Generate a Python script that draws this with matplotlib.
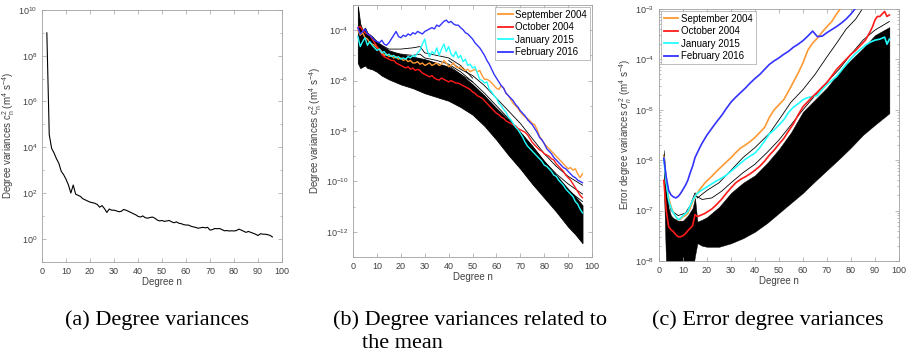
import numpy as np
import matplotlib
matplotlib.use("Agg")
import matplotlib.pyplot as plt
from matplotlib.ticker import LogLocator, FixedLocator, NullFormatter

plt.rcParams['font.family'] = ['Liberation Sans', 'DejaVu Sans']
plt.rcParams['mathtext.fontset'] = 'custom'
plt.rcParams['mathtext.rm'] = 'Liberation Sans'
plt.rcParams['mathtext.it'] = 'Liberation Sans:italic'
plt.rcParams['mathtext.bf'] = 'Liberation Sans:bold'

# ---- data (log10 of values) ----
# (a) degree variances, n = 2..96
deg_a = list(range(2, 97))
logc_a = [9.0, 4.55, 3.95, 3.75, 3.5, 3.3, 2.95, 2.8, 2.6, 2.35,
          2.0, 2.35, 1.95, 1.9, 1.85, 1.75, 1.7, 1.65, 1.6, 1.58,
          1.55, 1.5, 1.38, 1.45, 1.32, 1.15, 1.3, 1.25, 1.25, 1.22,
          1.18, 1.2, 1.28, 1.25, 1.2, 1.15, 1.1, 1.05, 0.98, 0.95,
          1.0, 0.92, 0.9, 0.93, 0.95, 0.9, 0.82, 0.78, 0.8, 0.76,
          0.78, 0.8, 0.74, 0.7, 0.74, 0.68, 0.66, 0.62, 0.6, 0.6,
          0.55, 0.52, 0.5, 0.46, 0.48, 0.5, 0.48, 0.5, 0.38, 0.4,
          0.45, 0.44, 0.45, 0.4, 0.35, 0.36, 0.34, 0.35, 0.34, 0.36,
          0.42, 0.38, 0.33, 0.28, 0.32, 0.28, 0.24, 0.2, 0.14, 0.22,
          0.2, 0.2, 0.18, 0.15, 0.08]

months = ['September 2004', 'October 2004', 'January 2015', 'February 2016']
colors = ['#ff9933', '#ff1a1a', '#22ffff', '#3333ff']

# (b) degree variances related to the mean, n = 2..96
deg_b = list(range(2, 97))
logb_sep04 = [-4.0, -4.2, -4.1, -4.3, -4.35, -4.5, -4.55, -4.6, -4.7, -4.75,
              -4.85, -5.0, -4.95, -5.05, -5.0, -5.1, -5.05, -5.15, -5.1, -5.2,
              -5.15, -5.25, -5.2, -5.3, -5.3, -5.25, -5.35, -5.3, -5.4, -5.35,
              -5.3, -5.4, -5.35, -5.3, -5.4, -5.35, -5.2, -5.3, -5.45, -5.4,
              -5.3, -5.45, -5.5, -5.45, -5.55, -5.6, -5.55, -5.65, -5.6, -5.55,
              -5.65, -5.6, -5.8, -5.95, -5.95, -6.0, -6.1, -6.2, -6.3, -6.35,
              -6.2, -6.3, -6.5, -6.6, -6.75, -6.9, -7.0, -7.1, -7.25, -7.35,
              -7.45, -7.5, -7.6, -7.7, -7.75, -7.95, -8.2, -8.35, -8.5, -8.6,
              -8.7, -8.8, -8.9, -9.0, -9.1, -9.2, -9.3, -9.4, -9.5, -9.45,
              -9.55, -9.5, -9.7, -9.85, -9.7]
logb_oct04 = [-3.9, -3.85, -4.0, -4.1, -4.15, -4.2, -4.35, -4.5, -4.65, -4.8,
              -4.95, -5.05, -5.1, -5.15, -5.2, -5.2, -5.3, -5.35, -5.4, -5.45,
              -5.5, -5.45, -5.55, -5.5, -5.6, -5.55, -5.6, -5.7, -5.75, -5.8,
              -5.85, -5.8, -5.9, -5.95, -5.98, -5.9, -5.95, -6.0, -6.05, -6.0,
              -6.05, -6.1, -6.1, -6.15, -6.2, -6.25, -6.3, -6.35, -6.45, -6.5,
              -6.6, -6.65, -6.7, -6.8, -6.9, -7.0, -7.1, -7.2, -7.3, -7.35,
              -7.45, -7.5, -7.6, -7.65, -7.7, -7.75, -7.8, -7.9, -7.95, -8.0,
              -8.05, -8.15, -8.3, -8.45, -8.55, -8.65, -8.75, -8.8, -8.9, -8.95,
              -9.0, -9.1, -9.15, -9.3, -9.4, -9.5, -9.6, -9.75, -9.85, -9.95,
              -10.1, -10.25, -10.4, -10.55, -10.65]
logb_jan15 = [-4.25, -4.65, -4.45, -4.3, -4.6, -4.45, -4.6, -4.7, -4.8, -4.75,
              -4.9, -4.85, -5.0, -4.95, -5.05, -5.0, -5.1, -5.05, -5.15, -5.1,
              -5.15, -5.05, -5.1, -5.0, -5.05, -4.9, -4.8, -4.55, -4.35, -4.8,
              -5.05, -4.85, -4.95, -4.7, -5.0, -4.75, -4.55, -4.85, -4.65, -4.95,
              -5.05, -4.85, -5.1, -5.0, -5.25, -5.15, -5.4, -5.35, -5.5, -5.45,
              -5.7, -5.95, -6.0, -6.1, -6.05, -6.35, -6.45, -6.6, -6.7, -6.9,
              -7.0, -7.15, -7.25, -7.45, -7.55, -7.7, -7.85, -7.95, -8.1, -8.25,
              -8.45, -8.6, -8.7, -8.8, -8.9, -9.0, -9.1, -9.2, -9.35, -9.4,
              -9.5, -9.6, -9.75, -9.8, -9.95, -10.05, -10.15, -10.3, -10.4, -10.5,
              -10.6, -10.8, -10.9, -11.1, -11.25]
logb_feb16 = [-3.9, -4.15, -4.05, -3.95, -4.15, -4.2, -4.3, -4.4, -4.45, -4.5,
              -4.4, -4.55, -4.6, -4.5, -4.35, -4.2, -4.05, -4.25, -4.3, -4.2,
              -4.25, -4.15, -4.2, -4.1, -4.15, -4.05, -4.1, -4.15, -4.05, -4.0,
              -3.95, -3.9, -3.95, -3.8, -3.85, -3.75, -3.65, -3.6, -3.7, -3.65,
              -3.75, -3.8, -3.8, -3.9, -3.98, -4.1, -4.15, -4.25, -4.35, -4.5,
              -4.6, -4.7, -4.85, -5.0, -5.2, -5.35, -5.55, -5.75, -5.9, -6.05,
              -6.2, -6.3, -6.5, -6.6, -6.7, -6.8, -6.95, -7.05, -7.2, -7.3,
              -7.4, -7.55, -7.65, -7.75, -7.9, -8.05, -8.25, -8.35, -8.5, -8.7,
              -8.8, -8.9, -9.05, -9.15, -9.25, -9.35, -9.45, -9.5, -9.6, -9.7,
              -9.8, -9.85, -9.95, -10.0, -10.05]

# (b) envelope of the bulk of the monthly (black) curves
band_b_deg = [2, 3, 4, 5, 6, 8, 10, 12, 15, 20, 25, 30, 35, 40, 45, 50, 55,
              60, 65, 70, 75, 80, 85, 90, 93, 96]
band_b_hi = [-3.05, -3.75, -4.0, -3.9, -4.1, -4.25, -4.45, -4.6, -4.8, -4.95,
             -5.05, -5.15, -5.3, -5.45, -5.75, -6.15, -6.6, -7.1, -7.55, -8.05,
             -8.6, -9.2, -9.75, -10.3, -10.6, -10.95]
band_b_lo = [-5.3, -5.5, -5.45, -5.4, -5.5, -5.55, -5.65, -5.8, -5.95, -6.15,
             -6.3, -6.5, -6.65, -6.8, -7.05, -7.35, -7.8, -8.35, -8.95, -9.5,
             -10.1, -10.65, -11.2, -11.8, -12.1, -12.45]
# (b) single black curves lying above the bulk
out_b_deg1 = [10, 15, 20, 25, 28, 30, 35, 40, 45, 50]
out_b_1 = [-4.5, -4.75, -4.75, -4.7, -4.65, -4.9, -5.0, -5.1, -5.4, -5.9]
out_b_2 = [-4.6, -4.9, -4.95, -5.0, -4.95, -5.1, -5.2, -5.35, -5.65, -6.05]
out_b_deg2 = [40, 45, 50, 55, 60, 65, 70, 75, 80, 85, 90, 96]
out_b_3 = [-5.2, -5.55, -5.8, -6.2, -6.7, -7.2, -7.7, -8.3, -8.9, -9.4, -9.8, -10.15]
out_b_4 = [-5.4, -5.75, -6.05, -6.5, -7.0, -7.5, -8.05, -8.6, -9.2, -9.7, -10.1, -10.5]
out_b_5 = [-5.6, -5.9, -6.3, -6.8, -7.3, -7.8, -8.3, -8.85, -9.45, -9.95, -10.35, -10.8]

# (c) error degree variances
deg_c = [2, 3, 4, 5, 6, 7, 8, 9, 10, 11, 12, 13, 14, 15, 16, 17, 18, 19, 20,
         22, 24, 26, 28, 30, 32, 34, 36, 38, 40, 42, 44, 46, 48, 50, 52, 54,
         56, 58, 60, 62, 64, 66, 68, 70, 72, 74, 76, 78, 80, 82, 84, 86, 88,
         89, 90, 91, 92, 93, 94, 95, 96]
logc_sep04 = [-5.93, -6.4, -6.75, -6.92, -7.05, -7.12, -7.18, -7.17, -7.12, -7.1,
              -7.05, -6.95, -6.82, -6.72, -6.65, -6.58, -6.52, -6.46, -6.41,
              -6.32, -6.22, -6.13, -6.04, -5.95, -5.85, -5.76, -5.7, -5.63, -5.55,
              -5.45, -5.35, -5.15, -5.0, -4.9, -4.8, -4.63, -4.45, -4.27, -4.07,
              -3.82, -3.68, -3.58, -3.46, -3.35, -3.25, -3.1, -2.97, -2.85, -2.7,
              -2.6, -2.5, -2.4, -2.3, -2.25, -2.2, -2.15, -2.1, -2.05, -2.0,
              -1.95, -1.9]
logc_oct04 = [-6.4, -7.0, -7.32, -7.38, -7.42, -7.48, -7.52, -7.52, -7.5, -7.46,
              -7.4, -7.35, -7.3, -7.08, -7.12, -7.1, -7.08, -7.06, -7.03,
              -6.97, -6.88, -6.78, -6.66, -6.55, -6.45, -6.38, -6.33, -6.27, -6.2,
              -6.12, -6.02, -5.9, -5.8, -5.68, -5.57, -5.42, -5.28, -5.1, -4.94,
              -4.84, -4.74, -4.65, -4.55, -4.46, -4.33, -4.2, -4.1, -4.0, -3.9,
              -3.82, -3.72, -3.62, -3.45, -3.35, -3.22, -3.15, -3.15, -3.1, -3.05,
              -3.15, -3.12]
logc_jan15 = [-5.96, -6.45, -6.8, -6.95, -7.05, -7.12, -7.18, -7.15, -7.1, -7.06,
              -7.02, -6.9, -6.8, -6.72, -6.66, -6.62, -6.59, -6.56, -6.53,
              -6.47, -6.41, -6.36, -6.3, -6.22, -6.14, -6.06, -5.98, -5.92, -5.86,
              -5.75, -5.62, -5.48, -5.4, -5.3, -5.2, -5.05, -4.95, -4.88, -4.8,
              -4.76, -4.74, -4.72, -4.6, -4.5, -4.42, -4.34, -4.22, -4.1, -3.98,
              -3.88, -3.8, -3.72, -3.66, -3.64, -3.62, -3.61, -3.6, -3.58, -3.56,
              -3.7, -3.6]
logc_feb16 = [-5.96, -6.33, -6.6, -6.69, -6.73, -6.75, -6.72, -6.66, -6.58, -6.5,
              -6.4, -6.25, -6.12, -5.95, -5.85, -5.75, -5.66, -5.58, -5.5,
              -5.37, -5.24, -5.12, -4.98, -4.85, -4.75, -4.66, -4.57, -4.47, -4.38,
              -4.3, -4.2, -4.1, -4.03, -3.97, -3.9, -3.84, -3.76, -3.7, -3.63,
              -3.54, -3.44, -3.55, -3.54, -3.47, -3.41, -3.35, -3.28, -3.2, -3.1,
              -2.98, -2.85, -2.75, -2.65, -2.6, -2.55, -2.5, -2.45, -2.4, -2.35,
              -2.3, -2.25]

band_c_deg = [2, 3, 4, 5, 6, 8, 10, 12, 14, 15, 16, 18, 20, 25, 30, 35, 40, 45,
              50, 55, 60, 65, 70, 75, 80, 85, 90, 96]
band_c_hi = [-5.8, -6.5, -6.95, -7.1, -7.15, -7.2, -7.2, -7.1, -6.95, -6.75,
             -7.22, -7.18, -7.13, -6.93, -6.65, -6.45, -6.3, -6.06, -5.78, -5.45,
             -5.04, -4.8, -4.56, -4.26, -4.01, -3.78, -3.52, -3.36]
band_c_lo = [-6.5, -8.2, -8.2, -8.2, -8.2, -8.2, -8.2, -8.2, -8.2, -7.9,
             -7.65, -7.7, -7.72, -7.72, -7.65, -7.55, -7.42, -7.25, -7.05, -6.85,
             -6.65, -6.42, -6.2, -5.98, -5.75, -5.5, -5.3, -5.07]
out_c_deg1 = [2, 3, 5, 8, 11, 13, 15, 16, 20, 25, 30, 35, 40, 46, 50, 55, 60,
              65, 70, 74, 78, 82, 85]
out_c_1 = [-5.9, -6.6, -7.0, -7.1, -7.05, -6.9, -6.65, -6.75, -6.6, -6.45,
           -6.2, -5.95, -5.75, -5.47, -5.2, -4.85, -4.6, -4.3, -3.95, -3.68,
           -3.4, -3.2, -2.98]
out_c_deg2 = [15, 18, 22, 26, 30, 35, 40, 45, 50, 55, 60, 65, 70, 75, 80, 85,
              90, 96]
out_c_2 = [-6.7, -6.78, -6.75, -6.62, -6.45, -6.25, -6.08, -5.85, -5.6, -5.3,
           -5.0, -4.72, -4.45, -4.2, -3.9, -3.62, -3.42, -3.25]

# ---- drawing ----
fig = plt.figure(figsize=(9.1, 3.56), dpi=100)
spine_c = '#a0a0a0'
text_c = '#404040'
fs = 6.5


def style(ax, lo, hi, step):
    ax.set_xlim(0, 100)
    ax.set_yscale('log')
    ax.set_ylim(10.0 ** lo, 10.0 ** hi)
    ax.set_xticks(range(0, 101, 10))
    ax.yaxis.set_major_locator(FixedLocator([10.0 ** e for e in range(lo, hi + 1, step)]))
    if step > 1:
        ax.yaxis.set_minor_locator(FixedLocator([10.0 ** e for e in range(lo, hi + 1)]))
    else:
        ax.yaxis.set_minor_locator(LogLocator(base=10, subs=np.arange(2, 10), numticks=20))
    ax.yaxis.set_minor_formatter(NullFormatter())
    ax.tick_params(which='both', direction='in', top=True, right=True,
                   labelsize=fs, colors=spine_c, labelcolor=text_c, width=0.5)
    ax.tick_params(which='major', length=3)
    ax.tick_params(which='minor', length=1.5)
    for s in ax.spines.values():
        s.set_color(spine_c)
        s.set_linewidth(0.6)
    ax.set_xlabel('Degree n', fontsize=7, color=text_c, labelpad=1)


def pw(v):
    return np.power(10.0, v)


def add_legend(ax, where):
    leg = ax.legend(loc=where, fontsize=7, handlelength=1.5, handletextpad=0.3,
                    borderpad=0.3, labelspacing=0.25, borderaxespad=0.2,
                    fancybox=False)
    leg.get_frame().set_edgecolor(spine_c)
    leg.get_frame().set_linewidth(0.6)
    for h in leg.get_lines():
        h.set_linewidth(1.3)


# (a)
ax1 = fig.add_axes([0.0462, 0.265, 0.2637, 0.707])
ax1.plot(deg_a, pw(logc_a), color='k', lw=0.8)
style(ax1, -1, 10, 2)
ax1.set_yticks([10.0 ** e for e in range(0, 11, 2)])
ax1.set_ylabel(r'Degree variances $\mathregular{c_n^2}$ (m$^4$ s$^{-4}$)',
               fontsize=7, color=text_c, labelpad=1)

# (b)
ax2 = fig.add_axes([0.388, 0.278, 0.2626, 0.708])
ax2.fill_between(band_b_deg, pw(band_b_lo), pw(band_b_hi), color='k', lw=0.6)
for d, v in [(out_b_deg1, out_b_1), (out_b_deg1, out_b_2), (out_b_deg2, out_b_3),
             (out_b_deg2, out_b_4), (out_b_deg2, out_b_5)]:
    ax2.plot(d, pw(v), color='k', lw=0.6)
for v, c, lab in zip([logb_sep04, logb_oct04, logb_jan15, logb_feb16], colors, months):
    ax2.plot(deg_b, pw(v), color=c, lw=1.0, label=lab, zorder=3)
style(ax2, -13, -3, 2)
ax2.set_yticks([10.0 ** e for e in range(-12, -3, 2)])
ax2.set_ylabel(r'Degree variances $\mathregular{c_n^2}$ (m$^4$ s$^{-4}$)',
               fontsize=7, color=text_c, labelpad=1)
add_legend(ax2, 'upper right')

# (c)
ax3 = fig.add_axes([0.7242, 0.267, 0.2637, 0.708])
ax3.fill_between(band_c_deg, pw(band_c_lo), pw(band_c_hi), color='k', lw=0.3)
for d, v in [(out_c_deg1, out_c_1), (out_c_deg2, out_c_2)]:
    ax3.plot(d, pw(v), color='k', lw=0.6)
for v, c, lab, z in zip([logc_sep04, logc_oct04, logc_jan15, logc_feb16], colors,
                        months, [3, 5, 3, 3]):
    ax3.plot(deg_c, pw(v), color=c, lw=1.2, label=lab, zorder=z)
style(ax3, -8, -3, 1)
ax3.set_ylabel(r'Error degree variances $\sigma_n^2$ (m$^4$ s$^{-4}$)',
               fontsize=7, color=text_c, labelpad=1)
add_legend(ax3, 'upper left')

# captions
cap = dict(family=['Liberation Serif', 'DejaVu Serif'], fontsize=16, va='center',
           color='k')
fig.text(65 / 910, 1 - 320 / 356, '(a) Degree variances', **cap)
fig.text(333 / 910, 1 - 320 / 356, '(b) Degree variances related to', **cap)
fig.text(362 / 910, 1 - 343 / 356, 'the mean', **cap)
fig.text(652 / 910, 1 - 320 / 356, '(c) Error degree variances', **cap)

fig.savefig('out.png', dpi=100)
